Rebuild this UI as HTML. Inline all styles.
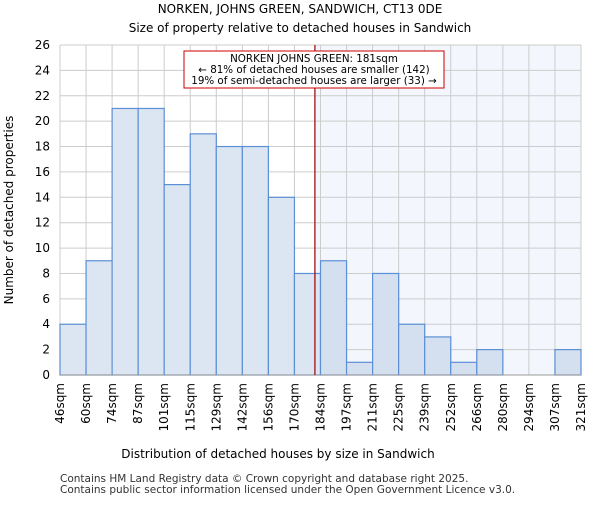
<!DOCTYPE html>
<html><head><meta charset="utf-8"><style>
body{margin:0;background:#fff;font-family:"Liberation Sans","DejaVu Sans",sans-serif}
svg text{font-family:"DejaVu Sans","Liberation Sans",sans-serif}
</style></head><body>
<svg id="c" width="600" height="500" xmlns="http://www.w3.org/2000/svg">
<text x="300" y="13" font-size="12" text-anchor="middle">NORKEN, JOHNS GREEN, SANDWICH, CT13 0DE</text>
<text x="300" y="32" font-size="12" text-anchor="middle">Size of property relative to detached houses in Sandwich</text>
<g id="plot"></g>
<text x="278" y="458" font-size="12" text-anchor="middle">Distribution of detached houses by size in Sandwich</text>
<text transform="translate(13,210) rotate(-90)" font-size="12" text-anchor="middle">Number of detached properties</text>
<text x="60" y="482" font-size="10.5" fill="#333">Contains HM Land Registry data © Crown copyright and database right 2025.</text>
<text x="60" y="493" font-size="10.5" fill="#333">Contains public sector information licensed under the Open Government Licence v3.0.</text>
</svg>
<script>
const binLabels=["46sqm","60sqm","74sqm","87sqm","101sqm","115sqm","129sqm","142sqm","156sqm","170sqm","184sqm","197sqm","211sqm","225sqm","239sqm","252sqm","266sqm","280sqm","294sqm","307sqm","321sqm"];
const binEdges=[46,60,74,87,101,115,129,142,156,170,184,197,211,225,239,252,266,280,294,307,321];
const counts=[4,9,21,21,15,19,18,18,14,8,9,1,8,4,3,1,2,0,0,2];
const yTicks=[0,2,4,6,8,10,12,14,16,18,20,22,24,26];
const markerValue=181;
const X0=60,X1=581,Y0=375,Y1=45,YMAX=26;
const NS="http://www.w3.org/2000/svg";
const g=document.getElementById('plot');
function yv(v){return Y0-v*(Y0-Y1)/YMAX;}
function xi(i){return X0+i*(X1-X0)/counts.length;}
function xv(v){for(let i=0;i<binEdges.length-1;i++){if(v<=binEdges[i+1]){return xi(i)+(v-binEdges[i])/(binEdges[i+1]-binEdges[i])*(xi(i+1)-xi(i));}}return X1;}
function mk(t,a){const e=document.createElementNS(NS,t);for(const k in a)e.setAttribute(k,a[k]);g.appendChild(e);return e;}
const mx=xv(markerValue);
let e=mk('rect',{x:mx,y:Y1,width:X1-mx,height:Y0-Y1,fill:'#f3f6fc'});


yTicks.forEach(t=>{
 let l=mk('line',{x1:X0,x2:X1,y1:yv(t),y2:yv(t),stroke:'#cccccc'});
 
 
 let tx=mk('text',{x:X0-10,y:yv(t)+4,'font-size':12,'text-anchor':'end'});tx.textContent=t;
 
 
});
binLabels.forEach((s,i)=>{
 let l=mk('line',{x1:xi(i),x2:xi(i),y1:Y1,y2:Y0,stroke:'#cccccc'});
 
 
 let tx=mk('text',{transform:`translate(${xi(i)+4},${Y0+8}) rotate(-90)`,'font-size':12,'text-anchor':'end'});tx.textContent=s;
 
 
});
counts.forEach((c,i)=>{
 if(c<=0)return;
 let r=mk('rect',{x:xi(i),y:yv(c),width:xi(i+1)-xi(i),height:Y0-yv(c),fill:xi(i)>=mx?'#d4dff0':'#dce6f2',stroke:'#5b8fd6','stroke-width':1.2});
 
 
});
let ax=mk('line',{x1:X0,x2:X1,y1:Y0,y2:Y0,stroke:'#999'});


let ml=mk('line',{x1:mx,x2:mx,y1:Y1,y2:Y0,stroke:'#990000','stroke-width':1.2});


let bx=mk('rect',{x:184,y:51,width:260,height:37,fill:'#fff',stroke:'#cc0000'});


["NORKEN JOHNS GREEN: 181sqm","← 81% of detached houses are smaller (142)","19% of semi-detached houses are larger (33) →"].forEach((s,i)=>{
 let t=mk('text',{x:314,y:62+i*11,'font-size':10.3,'text-anchor':'middle'});t.textContent=s;
 
 
});
</script>
</body></html>
